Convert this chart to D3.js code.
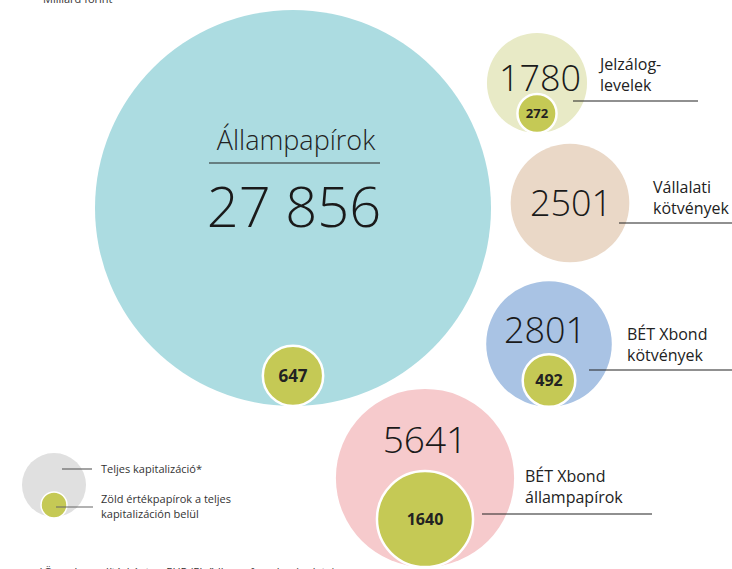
<!DOCTYPE html>
<html>
<head>
<meta charset="utf-8">
<script src="https://cdn.jsdelivr.net/npm/d3@7"></script>
<style>
  body { margin: 0; background: #fff; }
  svg { display: block; font-family: "Open Sans", "Lato", sans-serif; }
</style>
</head>
<body>
<svg id="drawing_region"></svg>
<script>
// adatok (milliárd forint)
const categories = ['Állampapírok', 'Jelzáloglevelek', 'Vállalati kötvények', 'BÉT Xbond kötvények', 'BÉT Xbond állampapírok'];
const totalValues = [27856, 1780, 2501, 2801, 5641];
const greenValues = [647, 272, null, 492, 1640];
const labelLines = [['Állampapírok'], ['Jelzálog-', 'levelek'], ['Vállalati', 'kötvények'], ['BÉT Xbond', 'kötvények'], ['BÉT Xbond', 'állampapírok']];
const fillColors = ['#acdce1', '#e8eac6', '#ead8c7', '#a9c3e4', '#f6cacc'];
const greenColor = '#c5c955';

// elrendezés: körök középpontjai és feliratok helye
const layout = [
    {cx: 293, cy: 208, numX: 294, numY: 227, numSize: 56, greenSize: 17},
    {cx: 537, cy: 83, numX: 540, numY: 91, numSize: 36, labX: 600, labY: 70, lineX1: 573, lineX2: 698, lineY: 101, greenSize: 13},
    {cx: 570, cy: 203, numX: 571, numY: 216, numSize: 36, labX: 653, labY: 193, lineX1: 619, lineX2: 732, lineY: 223},
    {cx: 549, cy: 344, numX: 545, numY: 343, numSize: 36, labX: 627, labY: 340, lineX1: 589, lineX2: 732, lineY: 370, greenSize: 16},
    {cx: 425, cy: 478, numX: 425, numY: 453, numSize: 37, labX: 525, labY: 482, lineX1: 482, lineX2: 652, lineY: 514, greenSize: 16}
];

const width = 732, height = 569;
const svg = d3.select('#drawing_region')
    .attr('width', width)
    .attr('height', height);

// terület arányos sugár
const rscale = d3.scaleSqrt()
    .domain([0, d3.max(totalValues)])
    .range([0, 198]);

const fmt = v => v >= 10000 ? d3.format(',')(v).replace(/,/g, ' ') : String(v);

svg.append('text')
    .attr('x', 43)
    .attr('y', 3)
    .style('font-size', '11px')
    .attr('fill', '#333')
    .text('Milliárd forint');

const items = categories.map((c, i) => ({
    name: c, total: totalValues[i], green: greenValues[i], lines: labelLines[i], color: fillColors[i], pos: layout[i]
}));

const g = svg.selectAll('g.bubble')
    .data(items)
    .enter()
    .append('g')
    .attr('class', 'bubble');

g.append('circle')
    .attr('cx', d => d.pos.cx)
    .attr('cy', d => d.pos.cy)
    .attr('r', d => rscale(d.total))
    .attr('fill', d => d.color);

// vezető vonalak (a belső kör alá)
g.filter(d => d.pos.labX !== undefined)
    .append('line')
    .attr('x1', d => d.pos.lineX1)
    .attr('x2', d => d.pos.lineX2)
    .attr('y1', d => d.pos.lineY)
    .attr('y2', d => d.pos.lineY)
    .attr('stroke', '#222')
    .attr('stroke-width', 1.2);

// zöld körök, alul érintve a nagy kört
const gg = g.filter(d => d.green !== null);
gg.append('circle')
    .attr('cx', d => d.pos.cx)
    .attr('cy', d => d.pos.cy + rscale(d.total) - rscale(d.green))
    .attr('r', d => rscale(d.green))
    .attr('fill', greenColor)
    .attr('stroke', '#fff')
    .attr('stroke-width', 2.5);

gg.append('text')
    .attr('x', d => d.pos.cx)
    .attr('y', d => d.pos.cy + rscale(d.total) - rscale(d.green) + d.pos.greenSize * 0.36)
    .attr('text-anchor', 'middle')
    .style('font-size', d => d.pos.greenSize + 'px')
    .style('font-weight', 'bold')
    .attr('fill', '#222')
    .text(d => fmt(d.green));

g.append('text')
    .attr('x', d => d.pos.numX)
    .attr('y', d => d.pos.numY)
    .attr('text-anchor', 'middle')
    .style('font-size', d => d.pos.numSize + 'px')
    .style('font-weight', 300)
    .attr('fill', '#1a1a1a')
    .text(d => fmt(d.total));

// oldalsó címkék
g.filter(d => d.pos.labX !== undefined)
    .each(function(d) {
        const t = d3.select(this).append('text')
            .attr('x', d.pos.labX)
            .attr('y', d.pos.labY)
            .style('font-size', '16px')
            .attr('fill', '#222');
        d.lines.forEach((l, k) => {
            t.append('tspan').attr('x', d.pos.labX).attr('dy', k === 0 ? 0 : 21).text(l);
        });
    });

// Állampapírok cím a körön belül
svg.append('text')
    .attr('x', 296)
    .attr('y', 150)
    .attr('text-anchor', 'middle')
    .style('font-size', '27px')
    .style('font-weight', 300)
    .attr('fill', '#222')
    .text(labelLines[0][0]);
svg.append('line')
    .attr('x1', 209).attr('x2', 380)
    .attr('y1', 163).attr('y2', 163)
    .attr('stroke', '#222')
    .attr('stroke-width', 1.2);

// jelmagyarázat
const legend = svg.append('g');
legend.append('circle').attr('cx', 54).attr('cy', 485).attr('r', 32).attr('fill', '#e0e0e0');
legend.append('circle').attr('cx', 54).attr('cy', 505).attr('r', 13).attr('fill', greenColor)
    .attr('stroke', '#fff').attr('stroke-width', 1.5);
legend.append('line').attr('x1', 62).attr('x2', 92).attr('y1', 469).attr('y2', 469).attr('stroke', '#666').attr('stroke-width', 1.2);
legend.append('line').attr('x1', 56).attr('x2', 93).attr('y1', 507).attr('y2', 507).attr('stroke', '#666').attr('stroke-width', 1.2);
legend.append('text').attr('x', 101).attr('y', 473).style('font-size', '11px').attr('fill', '#333')
    .text('Teljes kapitalizáció*');
const lt = legend.append('text').attr('x', 101).attr('y', 503).style('font-size', '11px').attr('fill', '#333');
lt.append('tspan').attr('x', 101).attr('dy', 0).text('Zöld értékpapírok a teljes');
lt.append('tspan').attr('x', 101).attr('dy', 15).text('kapitalizáción belül');

// lábjegyzet (a referencián is kilóg a képből)
svg.append('text')
    .attr('x', 38)
    .attr('y', 576)
    .style('font-size', '11px')
    .attr('fill', '#333')
    .text('*Összehasonlításként az EHP (Elsődleges forgalom) adatai');
</script>
</body>
</html>
